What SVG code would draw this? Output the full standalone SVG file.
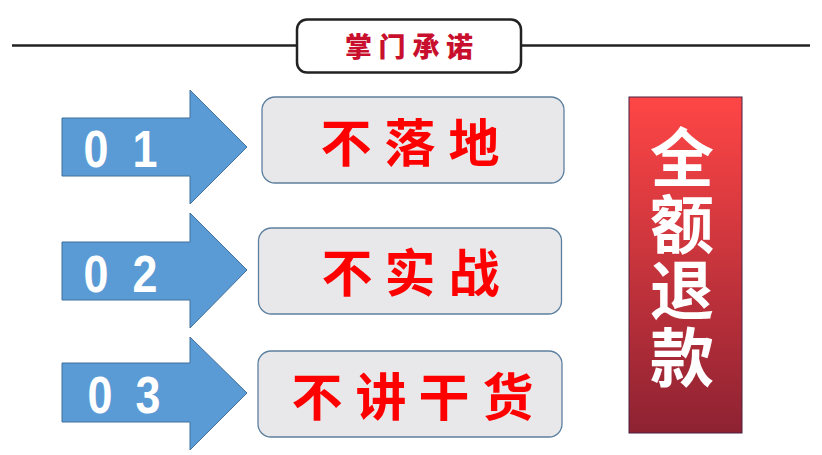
<svg xmlns="http://www.w3.org/2000/svg" width="822" height="455" viewBox="0 0 822 455">
<defs>
<linearGradient id="redGrad" x1="0" y1="0" x2="0" y2="1">
<stop offset="0" stop-color="#ff4646"/>
<stop offset="1" stop-color="#8e2232"/>
</linearGradient>
<style>
.arrow{fill:#5b9bd5;stroke:#41719c;stroke-width:1}
.num{font-family:"Liberation Sans",Arial,sans-serif;font-weight:bold;font-size:51px;fill:#ffffff;text-anchor:middle}
.box{fill:#e8e8ea;stroke:#5c7f9f;stroke-width:1.3}
.cn{font-family:"Noto Sans CJK SC","Noto Sans",sans-serif;font-weight:bold;font-size:51px;fill:#ff0000;text-anchor:middle}
.title{font-family:"Noto Sans CJK SC","Noto Sans",sans-serif;font-weight:900;font-size:27px;fill:#c8102e;text-anchor:middle}
.side{font-family:"Noto Sans CJK SC","Noto Sans",sans-serif;font-weight:bold;font-size:64px;fill:#ffffff;writing-mode:vertical-rl;text-orientation:upright;letter-spacing:2.5px}
</style>
</defs>
<rect width="822" height="455" fill="#ffffff"/>
<g id="connectors">
<line x1="12" y1="45.5" x2="297" y2="45.5" stroke="#222" stroke-width="2.5"/>
<line x1="521" y1="45.5" x2="810" y2="45.5" stroke="#222" stroke-width="2.5"/>
</g>
<g id="title">
<rect x="297" y="19.5" width="224" height="53" rx="10" fill="#ffffff" stroke="#222" stroke-width="2.5"/>
<text class="title" x="358.5 392 426 459.5" y="57">掌门承诺</text>
</g>
<g id="arrow1">
<polygon class="arrow" points="62,118 190,118 190,90 247,147 190,204 190,176 62,176"/>
<text class="num" transform="translate(96,167) scale(0.88,1)">0</text>
<text class="num" transform="translate(145,167) scale(0.88,1)">1</text>
</g>
<g id="arrow2">
<polygon class="arrow" points="62,242 190,242 190,213 247,270 190,328 190,300 62,300"/>
<text class="num" transform="translate(96,292) scale(0.88,1)">0</text>
<text class="num" transform="translate(145,292) scale(0.88,1)">2</text>
</g>
<g id="arrow3">
<polygon class="arrow" points="62,363 190,363 190,337 247,393 190,450 190,422 62,422"/>
<text class="num" transform="translate(100,413) scale(0.88,1)">0</text>
<text class="num" transform="translate(148,413) scale(0.88,1)">3</text>
</g>
<g id="box1">
<rect class="box" x="262" y="97" width="302" height="86" rx="13"/>
<text class="cn" x="346 410 474" y="162">不落地</text>
</g>
<g id="box2">
<rect class="box" x="258.5" y="228" width="303" height="86" rx="13"/>
<text class="cn" x="347 410 474" y="292">不实战</text>
</g>
<g id="box3">
<rect class="box" x="258" y="351" width="304" height="86" rx="13"/>
<text class="cn" x="317 381 444 508" y="416">不讲干货</text>
</g>
<g id="refund">
<rect x="629" y="97" width="113" height="336" fill="url(#redGrad)" stroke="#4a2040" stroke-width="1"/>
<text class="side" x="682" y="125">全额退款</text>
</g>
</svg>
